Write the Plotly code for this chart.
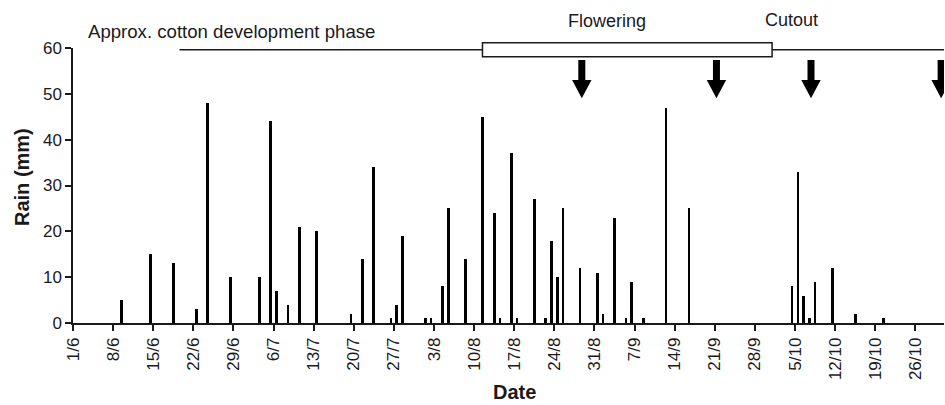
import datetime as dt
import plotly.graph_objects as go

YEAR = 2005

# Daily rainfall (day/month, mm)
rain_dates = ["9/6", "14/6", "18/6", "22/6", "24/6", "28/6", "3/7", "5/7", "6/7", "8/7",
              "10/7", "13/7", "19/7", "21/7", "23/7", "26/7", "27/7", "28/7", "1/8", "2/8",
              "4/8", "5/8", "8/8", "11/8", "13/8", "14/8", "16/8", "17/8", "20/8", "22/8",
              "23/8", "24/8", "25/8", "28/8", "31/8", "1/9", "3/9", "5/9", "6/9", "8/9",
              "12/9", "16/9", "4/10", "5/10", "6/10", "7/10", "8/10", "11/10", "15/10", "20/10"]
rain_mm = [5, 15, 13, 3, 48, 10, 10, 44, 7, 4,
           21, 20, 2, 14, 34, 1, 4, 19, 1, 1,
           8, 25, 14, 45, 24, 1, 37, 1, 27, 1,
           18, 10, 25, 12, 11, 2, 23, 1, 9, 1,
           47, 25, 8, 33, 6, 1, 9, 12, 2, 1]

# Tick labels (weekly)
tick_labels = ["1/6", "8/6", "15/6", "22/6", "29/6", "6/7", "13/7", "20/7", "27/7", "3/8",
               "10/8", "17/8", "24/8", "31/8", "7/9", "14/9", "21/9", "28/9", "5/10",
               "12/10", "19/10", "26/10"]

# Cotton development phase (approximate)
phase_start = "2005-06-19 14:00"
flowering_start = "2005-08-11 11:00"
flowering_end = "2005-10-01 00:00"
phase_end = "2005-11-05 00:00"

# Event arrows
arrow_times = ["2005-08-28 19:00", "2005-09-21 07:00", "2005-10-07 19:00", "2005-10-30 12:00"]

x_range = ["2005-06-01", "2005-10-31"]


def to_date(dm, hour=0):
    d, m = dm.split("/")
    return dt.datetime(YEAR, int(m), int(d), hour)


bar_x = [to_date(s, 12) for s in rain_dates]
tick_x = [to_date(s) for s in tick_labels]

INK = "#1a1a1a"
FONT = "Liberation Sans, Arial, sans-serif"

fig = go.Figure()
fig.add_trace(go.Bar(
    x=bar_x, y=rain_mm,
    width=0.47 * 86400000,
    marker=dict(color="black", line=dict(width=0)),
    showlegend=False,
))

fig.update_layout(
    width=945, height=405,
    margin=dict(l=73, r=1, t=48, b=82),
    plot_bgcolor="white", paper_bgcolor="white",
    font=dict(family=FONT, color=INK, size=17),
    bargap=0,
)
fig.update_xaxes(
    type="date", range=x_range,
    tickmode="array", tickvals=tick_x, ticktext=tick_labels,
    tickangle=-90, ticks="outside", ticklen=6, tickwidth=1.5, tickcolor=INK,
    showline=True, linecolor=INK, linewidth=1.5,
    showgrid=False, zeroline=False,
    tickfont=dict(size=17, family=FONT, color=INK),
)
fig.update_yaxes(
    range=[0, 60], tickmode="array", tickvals=[0, 10, 20, 30, 40, 50, 60],
    ticks="outside", ticklen=6, tickwidth=1.5, tickcolor=INK,
    showline=True, linecolor=INK, linewidth=1.5,
    showgrid=False, zeroline=False,
    tickfont=dict(size=17, family=FONT, color=INK),
)

# Phase line and flowering box
fig.add_shape(type="line", xref="x", yref="paper", x0=phase_start, x1=flowering_start,
              y0=0.994, y1=0.994, line=dict(color=INK, width=1.5))
fig.add_shape(type="line", xref="x", yref="paper", x0=flowering_end, x1=phase_end,
              y0=0.994, y1=0.994, line=dict(color=INK, width=1.5))
fig.add_shape(type="rect", xref="x", yref="paper", x0=flowering_start, x1=flowering_end,
              y0=0.968, y1=1.019, fillcolor="white", line=dict(color=INK, width=1.5))

# Arrows
arrow_path = "M-3.5,0 L3.5,0 L3.5,-20 L9.7,-20 L0,-38.3 L-9.7,-20 L-3.5,-20 Z"
for t in arrow_times:
    fig.add_shape(type="path", xref="x", yref="paper", xsizemode="pixel", ysizemode="pixel",
                  xanchor=t, yanchor=0.9564, path=arrow_path,
                  fillcolor="black", line=dict(width=0))

# Text labels
fig.add_annotation(text="Approx. cotton development phase", xref="paper", yref="paper",
                   x=(86 - 73) / 871, y=(323 - 31) / 275, xanchor="left", yanchor="middle",
                   showarrow=False, font=dict(size=18.6, family=FONT, color=INK))
fig.add_annotation(text="Flowering", xref="paper", yref="paper",
                   x=(607 - 73) / 871, y=(323 - 21) / 275, xanchor="center", yanchor="middle",
                   showarrow=False, font=dict(size=18, family=FONT, color=INK))
fig.add_annotation(text="Cutout", xref="paper", yref="paper",
                   x=(791 - 73) / 871, y=(323 - 20) / 275, xanchor="center", yanchor="middle",
                   showarrow=False, font=dict(size=18, family=FONT, color=INK))
fig.add_annotation(text="<b>Rain (mm)</b>", xref="paper", yref="paper",
                   x=(22 - 73) / 871, y=(323 - 177) / 275, xanchor="center", yanchor="middle",
                   textangle=-90, showarrow=False, font=dict(size=20, family=FONT, color=INK))
fig.add_annotation(text="<b>Date</b>", xref="paper", yref="paper",
                   x=(514 - 73) / 871, y=(323 - 392) / 275, xanchor="center", yanchor="middle",
                   showarrow=False, font=dict(size=20, family=FONT, color=INK))

fig.write_html("out.html")
